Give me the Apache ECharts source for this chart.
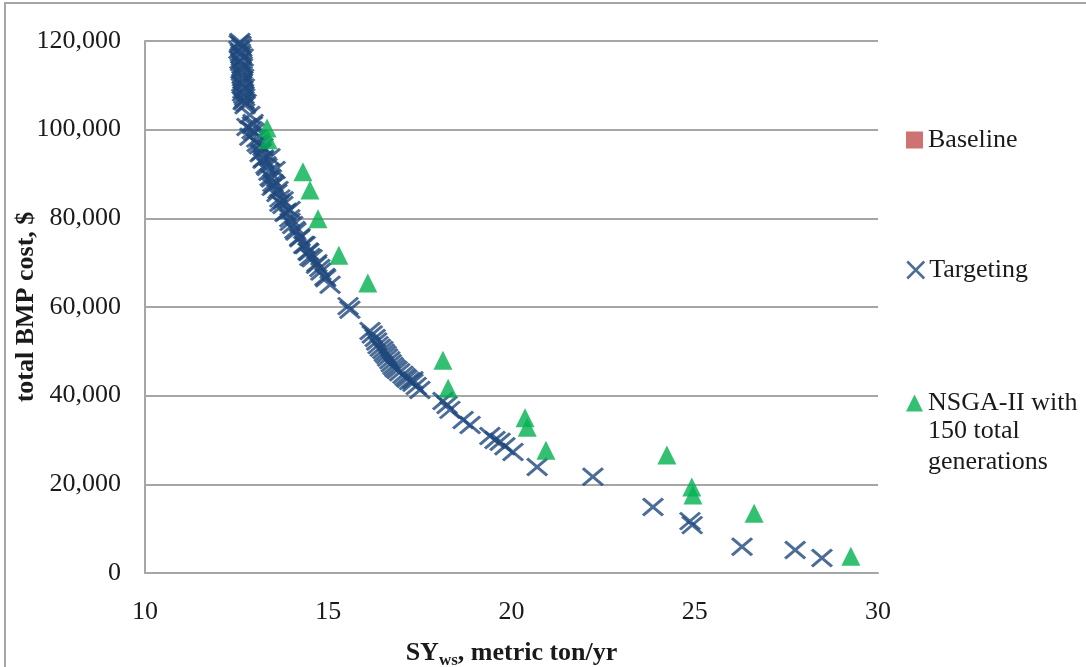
<!DOCTYPE html>
<html>
<head>
<meta charset="utf-8">
<script src="https://cdn.jsdelivr.net/npm/echarts@6/dist/echarts.min.js"></script>
<style>
  html, body { margin: 0; padding: 0; background: #fff; }
  #chart { width: 1086px; height: 667px; }
</style>
</head>
<body>
<div id="chart"></div>
<script>
// Sediment yield (metric ton/yr) vs. total BMP cost ($)
const baselineX = [];
const baselineY = [];

const targetingX = [
  // upper cluster
  12.59, 12.62, 12.56, 12.62, 12.59, 12.65, 12.62, 12.65, 12.67, 12.65,
  12.67, 12.70, 12.70, 12.76, 12.57, 12.64, 12.60, 12.68, 12.61, 12.66,
  12.63, 12.69, 12.64, 12.71, 12.66, 12.72, 12.68, 12.73,
  // steep band
  12.86, 12.78, 12.92, 12.95, 12.86, 13.06, 12.93, 12.98, 13.05, 13.12,
  13.14, 13.22, 13.22, 13.18, 13.24, 13.30, 13.33, 13.41, 13.41, 13.38,
  13.45, 13.55, 13.49, 13.47, 13.52, 13.60, 13.63, 13.68, 13.68, 13.77,
  13.76, 13.82, 13.86, 13.96, 13.95, 13.96, 14.03, 14.09, 14.12, 14.23,
  14.22, 14.37, 14.33, 14.47, 14.45, 14.50, 14.56, 14.69, 14.68, 14.77,
  14.80, 14.91, 14.93, 15.05,
  // middle
  15.54, 15.59, 16.14, 16.20, 16.28, 16.32, 16.36, 16.42, 16.49, 16.53,
  16.58, 16.62, 16.68, 16.72, 16.77, 16.82, 16.88, 16.95, 17.04, 17.10,
  17.15, 17.22, 17.31, 17.31, 17.40, 17.50,
  // lower tail
  18.13, 18.24, 18.32, 18.68, 18.87, 19.41, 19.55, 19.69, 19.82, 20.04,
  20.70, 22.22, 23.86, 24.87, 24.93, 26.29, 27.74, 28.47
];
const targetingY = [
  // upper cluster
  119800, 119100, 118000, 116900, 115700, 114600, 113500, 112300, 111200, 110100,
  109000, 107800, 106700, 106000, 119400, 118500, 117400, 116300, 115200, 114100,
  113000, 111700, 110600, 109500, 108400, 107300, 106400, 105500,
  // steep band
  103300, 100600, 99900, 101500, 98400, 97000, 101000, 99500, 98000, 96500,
  94700, 93200, 96100, 95000, 93500, 92000, 91600, 89300, 93800, 90500,
  89000, 90900, 88000, 87100, 87500, 85700, 86400, 83500, 84500, 84100,
  83000, 81200, 81500, 79200, 80000, 81900, 78500, 77400, 77000, 75800,
  75500, 74000, 74000, 72400, 72500, 71300, 71000, 69900, 69500, 68800,
  68000, 66800, 66500, 65000,
  // middle
  60200, 59400, 54600, 53800, 53000, 52200, 51400, 50800, 50300, 49700,
  49200, 48600, 48000, 47300, 46700, 46200, 45800, 45300, 44700, 44200,
  43800, 43300, 43500, 42900, 42200, 41300,
  // lower tail
  38800, 37900, 36800, 34500, 33400, 30900, 30000, 29600, 28600, 27300,
  23900, 21700, 14900, 11700, 10800, 5900, 5200, 3400
];

const nsgaX = [
  13.33, 13.36, 14.31, 14.50, 14.72, 15.29, 16.08, 18.13, 18.27, 20.37,
  20.43, 20.94, 24.24, 24.92, 24.95, 26.62, 29.26
];
const nsgaY = [
  100400, 97700, 90500, 86400, 79900, 71700, 65400, 48000, 41700, 35000,
  32900, 27700, 26600, 19400, 17600, 13500, 3800
];

const xTicks = { min: 10, max: 30, interval: 5 };
const yTicks = { min: 0, max: 120000, interval: 20000 };

const seriesNames = ['Baseline', 'Targeting', 'NSGA-II with 150 total generations'];
const nsgaLegendLines = ['NSGA-II with', '150 total', 'generations'];

const zip = (xs, ys) => xs.map((x, i) => [x, ys[i]]);

const SERIF = '"Liberation Serif", "Times New Roman", serif';
const TEXT = '#1a1a1a';
const GRID_GRAY = '#A6A6A6';
const BLUE = '#1F497D';
const GREEN = '#00B050';
const RED = '#C0504D';
const CROSS = 'path://M0,0L10,10M10,0L0,10';

const chart = echarts.init(document.getElementById('chart'), null, { renderer: 'canvas' });

const legendText = { fontFamily: SERIF, fontSize: 26, color: TEXT, lineHeight: 30 };
const legendBase = {
  orient: 'vertical', left: 906, padding: 0,
  itemWidth: 17, itemHeight: 17, itemGap: 0,
  textStyle: legendText
};

chart.setOption({
  animation: false,
  backgroundColor: '#fff',
  textStyle: { fontFamily: SERIF },
  graphic: [
    {
      type: 'rect',
      shape: { x: 5, y: 3, width: 1100, height: 700 },
      style: { fill: 'none', stroke: GRID_GRAY, lineWidth: 2 },
      silent: true,
      z: -1
    },
    {
      type: 'text', left: 928, top: 418, silent: true,
      style: { text: nsgaLegendLines[1], font: '26px ' + SERIF, fill: TEXT }
    },
    {
      type: 'text', left: 928, top: 449, silent: true,
      style: { text: nsgaLegendLines[2], font: '26px ' + SERIF, fill: TEXT }
    }
  ],
  grid: { left: 145, right: 208, top: 41, bottom: 94, containLabel: false, outerBoundsMode: 'none' },
  legend: [
    Object.assign({}, legendBase, {
      top: 125,
      data: [{ name: seriesNames[0], icon: 'rect' }]
    }),
    Object.assign({}, legendBase, {
      top: 255,
      data: [{
        name: seriesNames[1], icon: CROSS,
        itemStyle: { color: BLUE, borderColor: BLUE, borderWidth: 2.5 }
      }]
    }),
    Object.assign({}, legendBase, {
      top: 388,
      formatter: () => nsgaLegendLines[0],
      data: [{ name: seriesNames[2], icon: 'triangle' }]
    })
  ],
  xAxis: {
    type: 'value',
    min: xTicks.min, max: xTicks.max, interval: xTicks.interval,
    name: '{b|SY}{s|ws}{b|, metric ton/yr}',
    nameLocation: 'middle',
    nameGap: 63,
    nameMoveOverlap: false,
    nameTextStyle: {
      rich: {
        b: { fontFamily: SERIF, fontSize: 26, fontWeight: 'bold', color: TEXT, lineHeight: 30, verticalAlign: 'bottom' },
        s: { fontFamily: SERIF, fontSize: 17, fontWeight: 'bold', color: TEXT, lineHeight: 22, verticalAlign: 'bottom', padding: [0, 0, -3, 0] }
      }
    },
    axisLine: { show: true, lineStyle: { color: GRID_GRAY, width: 2 } },
    axisTick: { show: false },
    splitLine: { show: false },
    axisLabel: { fontFamily: SERIF, fontSize: 26, color: TEXT, margin: 26 }
  },
  yAxis: {
    type: 'value',
    min: yTicks.min, max: yTicks.max, interval: yTicks.interval,
    name: 'total BMP cost, $',
    nameLocation: 'middle',
    nameGap: 106,
    nameMoveOverlap: false,
    nameTextStyle: { fontFamily: SERIF, fontSize: 26, fontWeight: 'bold', color: TEXT },
    axisLine: { show: true, lineStyle: { color: GRID_GRAY, width: 2 } },
    axisTick: { show: false },
    splitLine: { show: true, lineStyle: { color: GRID_GRAY, width: 2 } },
    axisLabel: {
      fontFamily: SERIF, fontSize: 26, color: TEXT, margin: 24,
      formatter: v => v.toLocaleString('en-US')
    }
  },
  series: [
    {
      name: seriesNames[0],
      type: 'scatter',
      symbol: 'rect',
      symbolSize: 17,
      itemStyle: { color: RED },
      data: zip(baselineX, baselineY)
    },
    {
      name: seriesNames[1],
      type: 'scatter',
      symbol: CROSS,
      symbolSize: [20, 17],
      itemStyle: { color: BLUE, borderColor: BLUE, borderWidth: 3 },
      data: zip(targetingX, targetingY)
    },
    {
      name: seriesNames[2],
      type: 'scatter',
      symbol: 'triangle',
      symbolSize: 19,
      itemStyle: { color: GREEN },
      data: zip(nsgaX, nsgaY)
    }
  ]
});
</script>
</body>
</html>
